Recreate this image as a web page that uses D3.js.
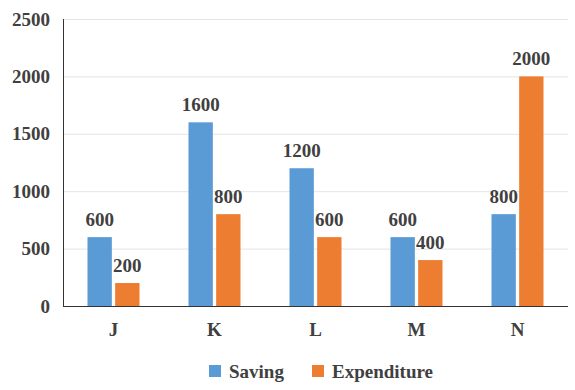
<!DOCTYPE html>
<html>
<head>
<meta charset="utf-8">
<script src="https://d3js.org/d3.v7.min.js"></script>
<style>
  body { margin: 0; background: #fff; }
  text { font-family: "Liberation Serif", "Times New Roman", serif; font-weight: bold; fill: #404040; }
</style>
</head>
<body>
<svg id="chart" width="575" height="390"></svg>
<script>
const categories = ["J", "K", "L", "M", "N"];
const seriesNames = ["Saving", "Expenditure"];
const saving = [600, 1600, 1200, 600, 800];
const expenditure = [200, 800, 600, 400, 2000];
const yTicks = [0, 500, 1000, 1500, 2000, 2500];
const colors = ["#5B9BD5", "#ED7D31"];

const plotLeft = 63, plotRight = 568, plotTop = 19, plotBottom = 306;
const svg = d3.select("#chart");

const x = d3.scaleBand().domain(categories).range([plotLeft, plotRight]);
const x1 = d3.scaleBand().domain(seriesNames).range([0, 52]).paddingInner(0.12);
const y = d3.scaleLinear().domain([0, 2500]).range([plotBottom, plotTop]);

// gridlines
svg.append("g").selectAll("line").data(yTicks.slice(1)).enter().append("line")
  .attr("x1", plotLeft).attr("x2", plotRight)
  .attr("y1", d => y(d) + 0.5).attr("y2", d => y(d) + 0.5)
  .attr("stroke", "#e4e4e4").attr("stroke-width", 1);

// y labels
svg.append("g").selectAll("text").data(yTicks).enter().append("text")
  .attr("x", 50).attr("y", d => y(d))
  .attr("dy", "0.35em")
  .attr("text-anchor", "end")
  .style("font-size", "19px")
  .text(d => d);

const rows = categories.map((c, i) => ({ cat: c, vals: [saving[i], expenditure[i]] }));

const groups = svg.append("g").selectAll("g").data(rows).enter().append("g")
  .attr("transform", d => "translate(" + (x(d.cat) + x.bandwidth() / 2 - 26) + ",0)");

groups.selectAll("rect").data(d => d.vals).enter().append("rect")
  .attr("x", (d, i) => x1(seriesNames[i]))
  .attr("y", d => y(d))
  .attr("width", x1.bandwidth())
  .attr("height", d => plotBottom - y(d))
  .attr("fill", (d, i) => colors[i]);

groups.selectAll("text").data(d => d.vals).enter().append("text")
  .attr("x", (d, i) => x1(seriesNames[i]) + x1.bandwidth() / 2)
  .attr("y", d => y(d) - 11)
  .attr("text-anchor", "middle")
  .style("font-size", "19px")
  .text(d => d);

// axes lines
svg.append("line").attr("x1", plotLeft + 0.5).attr("x2", plotLeft + 0.5).attr("y1", plotTop).attr("y2", plotBottom)
  .attr("stroke", "#333").attr("stroke-width", 1);
svg.append("line").attr("x1", plotLeft).attr("x2", plotRight).attr("y1", plotBottom + 0.5).attr("y2", plotBottom + 0.5)
  .attr("stroke", "#333").attr("stroke-width", 1.2);

// category labels
svg.append("g").selectAll("text").data(categories).enter().append("text")
  .attr("x", d => x(d) + x.bandwidth() / 2)
  .attr("y", 336)
  .attr("text-anchor", "middle")
  .style("font-size", "19px")
  .text(d => d);

// legend
const legendX = [209, 312];
const legend = svg.append("g").selectAll("g").data(seriesNames).enter().append("g")
  .attr("transform", (d, i) => "translate(" + legendX[i] + ",365)");
legend.append("rect").attr("width", 12).attr("height", 12).attr("fill", (d, i) => colors[i]);
legend.append("text").attr("x", 20).attr("y", 6).attr("dy", "0.35em")
  .style("font-size", "19px").text(d => d);
</script>
</body>
</html>
